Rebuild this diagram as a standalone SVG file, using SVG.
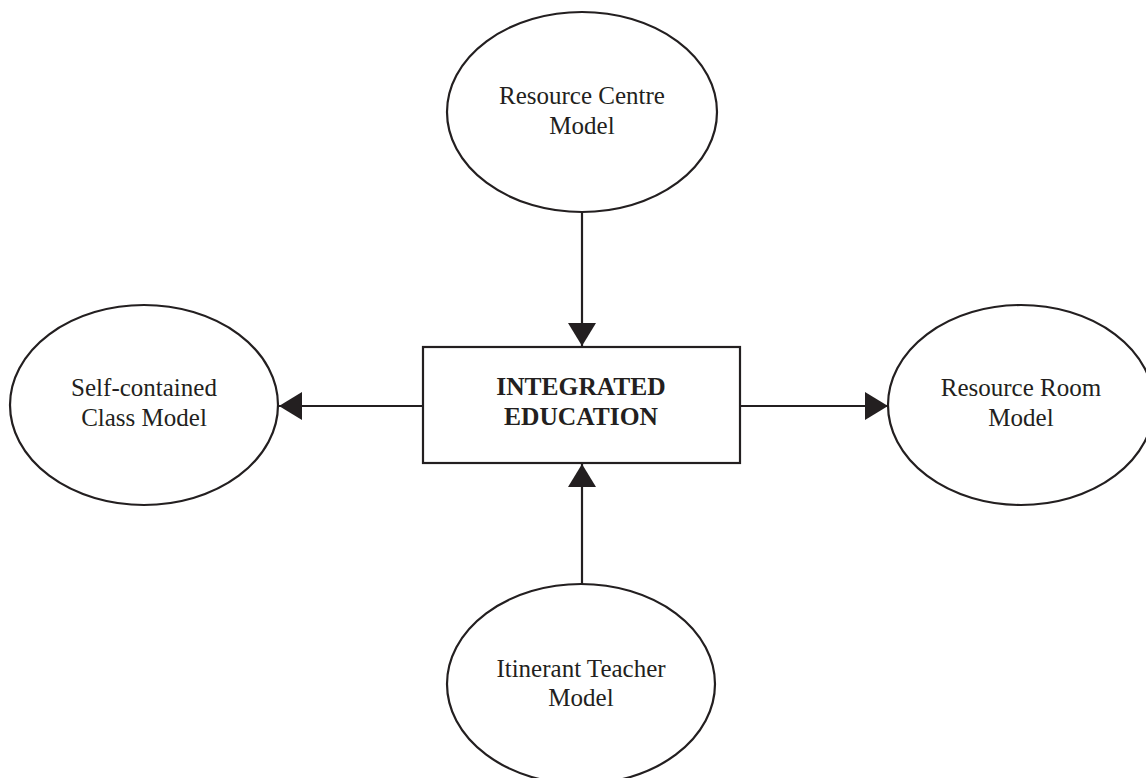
<svg xmlns="http://www.w3.org/2000/svg" width="1146" height="778" viewBox="0 0 1146 778">
<style>
.node ellipse{fill:#fff;stroke:#231f20;stroke-width:2.2}
.box{fill:#fff;stroke:#231f20;stroke-width:2.2}
.lbl{font-family:"Liberation Serif","Times New Roman",serif;font-size:25px;fill:#231f20;text-anchor:middle}
.bold{font-weight:bold;font-size:25.5px}
.conn line{stroke:#231f20;stroke-width:2.2}
</style>
<defs>
<marker id="arr" markerUnits="userSpaceOnUse" markerWidth="24" markerHeight="28" refX="23" refY="14" orient="auto">
<path d="M0,0 L23,14 L0,28 Z" fill="#231f20"/>
</marker>
</defs>
<rect width="1146" height="778" fill="#fff"/>
<g id="connectors" class="conn">
<line x1="582" y1="212" x2="582" y2="346" marker-end="url(#arr)"/>
<line x1="582" y1="584" x2="582" y2="464" marker-end="url(#arr)"/>
<line x1="423" y1="406" x2="279" y2="406" marker-end="url(#arr)"/>
<line x1="740" y1="406" x2="888" y2="406" marker-end="url(#arr)"/>
</g>
<g id="integrated-education">
<rect class="box" x="423" y="347" width="317" height="116"/>
<text class="lbl bold" x="581" y="395">INTEGRATED</text>
<text class="lbl bold" x="581" y="425">EDUCATION</text>
</g>
<g id="resource-centre" class="node">
<ellipse cx="582" cy="112" rx="135" ry="100"/>
<text class="lbl" x="582" y="104">Resource Centre</text>
<text class="lbl" x="582" y="134">Model</text>
</g>
<g id="self-contained" class="node">
<ellipse cx="144" cy="405" rx="134" ry="100"/>
<text class="lbl" x="144" y="396">Self-contained</text>
<text class="lbl" x="144" y="426">Class Model</text>
</g>
<g id="resource-room" class="node">
<ellipse cx="1021" cy="405" rx="133" ry="100"/>
<text class="lbl" x="1021" y="396">Resource Room</text>
<text class="lbl" x="1021" y="426">Model</text>
</g>
<g id="itinerant-teacher" class="node">
<ellipse cx="581" cy="684" rx="134" ry="100"/>
<text class="lbl" x="581" y="677">Itinerant Teacher</text>
<text class="lbl" x="581" y="706">Model</text>
</g>
</svg>
